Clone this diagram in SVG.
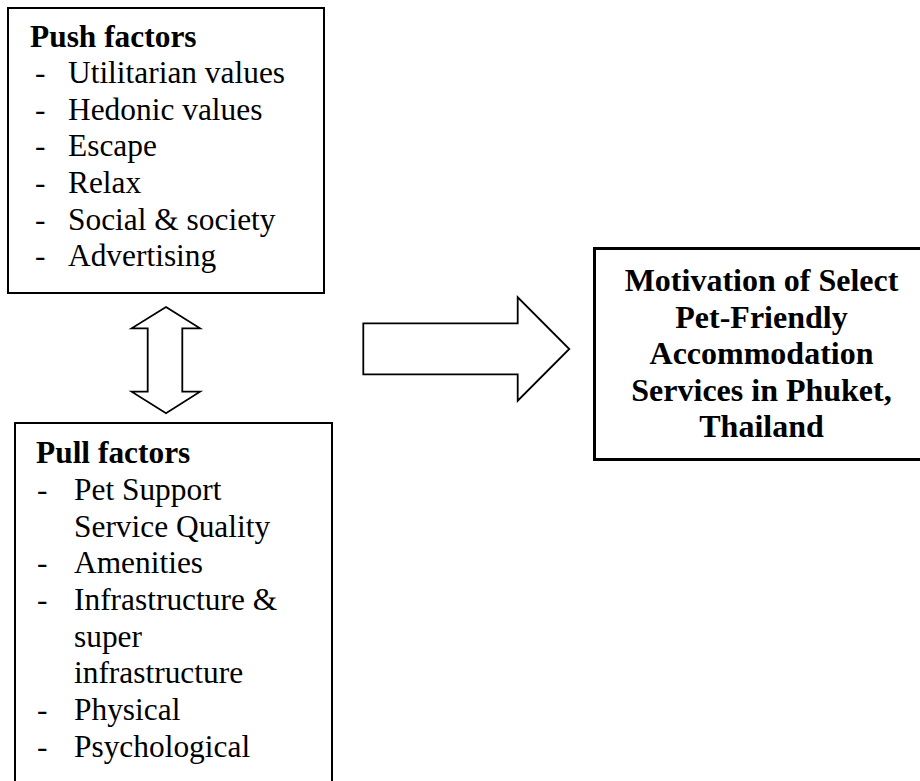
<svg xmlns="http://www.w3.org/2000/svg" width="920" height="781" viewBox="0 0 920 781">
<style>
.box{fill:#fff;stroke:#000;stroke-width:2}
.bold{stroke-width:3}
.t{font-family:"Liberation Serif","Times New Roman",serif;font-size:31.4px;fill:#000}
.b{font-weight:bold}
.m{font-size:32px}
.arrow{fill:#fff;stroke:#000;stroke-width:1.8;stroke-linejoin:miter}
</style>
<rect width="920" height="781" fill="#fff"/>
<g id="push">
<rect class="box" x="8" y="8" width="316" height="285"/>
<text class="t b" x="30" y="47">Push factors</text>
<g class="t">
<text x="35" y="83">-</text><text x="68" y="83">Utilitarian values</text>
<text x="35" y="119.5">-</text><text x="68" y="119.5">Hedonic values</text>
<text x="35" y="156">-</text><text x="68" y="156">Escape</text>
<text x="35" y="193">-</text><text x="68" y="193">Relax</text>
<text x="35" y="229.5">-</text><text x="68" y="229.5">Social &amp; society</text>
<text x="35" y="266">-</text><text x="68" y="266">Advertising</text>
</g>
</g>
<g id="pull">
<rect class="box" x="15" y="423" width="317" height="380"/>
<text class="t b" x="36" y="463">Pull factors</text>
<g class="t">
<text x="37" y="500">-</text><text x="74" y="500">Pet Support</text>
<text x="74" y="536.7">Service Quality</text>
<text x="37" y="573.3">-</text><text x="74" y="573.3">Amenities</text>
<text x="37" y="610">-</text><text x="74" y="610">Infrastructure &amp;</text>
<text x="74" y="646.7">super</text>
<text x="74" y="683.3">infrastructure</text>
<text x="37" y="720">-</text><text x="74" y="720">Physical</text>
<text x="37" y="756.7">-</text><text x="74" y="756.7">Psychological</text>
</g>
</g>
<g id="motivation">
<rect class="box bold" x="594.5" y="248.5" width="340" height="211"/>
<g class="t b m" text-anchor="middle">
<text x="761.5" y="291">Motivation of Select</text>
<text x="761.5" y="327.5">Pet-Friendly</text>
<text x="761.5" y="364">Accommodation</text>
<text x="761.5" y="400.5">Services in Phuket,</text>
<text x="761.5" y="437">Thailand</text>
</g>
</g>
<g id="connectors">
<path class="arrow" d="M166,307 L200,328.3 L182.3,328.3 L182.3,391.7 L200,391.7 L166,413.3 L131.7,391.7 L147.7,391.7 L147.7,328.3 L131.7,328.3 Z"/>
<path class="arrow" d="M363.3,323.3 L517.7,323.3 L517.7,297.3 L569.3,349 L517.7,400.7 L517.7,374.3 L363.3,374.3 Z"/>
</g>
</svg>
